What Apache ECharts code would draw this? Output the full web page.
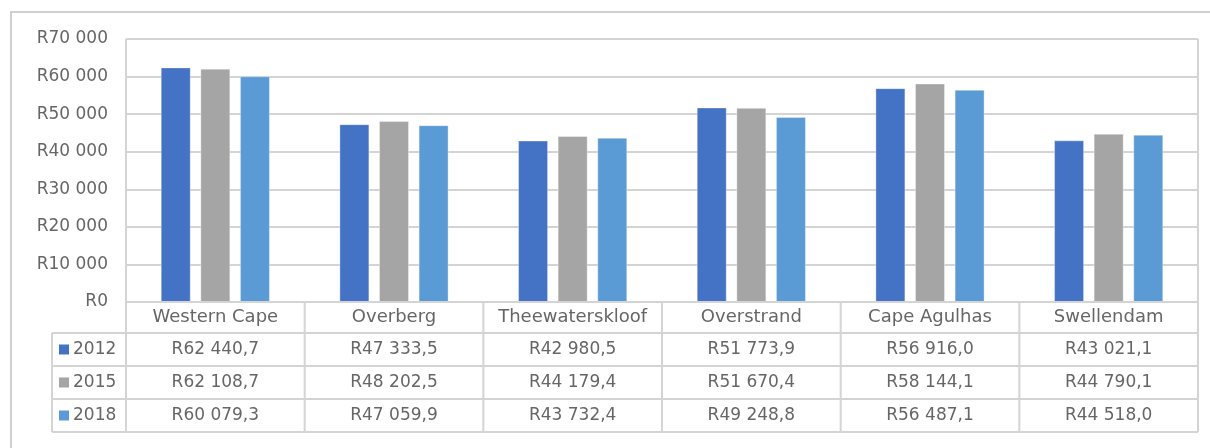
<!DOCTYPE html>
<html>
<head>
<meta charset="utf-8">
<script src="https://cdn.jsdelivr.net/npm/echarts@6/dist/echarts.min.js"></script>
<style>
html,body{margin:0;padding:0;background:#fff;}
#chart{width:1210px;height:448px;}
</style>
</head>
<body>
<div id="chart"></div>
<script>
const categories = ['Western Cape', 'Overberg', 'Theewaterskloof', 'Overstrand', 'Cape Agulhas', 'Swellendam'];
const seriesNames = ['2012', '2015', '2018'];
const values2012 = [62440.7, 47333.5, 42980.5, 51773.9, 56916.0, 43021.1];
const values2015 = [62108.7, 48202.5, 44179.4, 51670.4, 58144.1, 44790.1];
const values2018 = [60079.3, 47059.9, 43732.4, 49248.8, 56487.1, 44518.0];
const colors = ['#4472C4', '#A5A5A5', '#5B9BD5'];
const yTicks = [0, 10000, 20000, 30000, 40000, 50000, 60000, 70000];

const allValues = [values2012, values2015, values2018];

function thousands(n) {
  return String(n).replace(/\B(?=(\d{3})+(?!\d))/g, ' ');
}
function fmtAxis(v) { return 'R' + thousands(Math.round(v)); }
function fmtCell(v) {
  const parts = v.toFixed(1).split('.');
  return 'R' + thousands(parts[0]) + ',' + parts[1];
}

const W = 1210, H = 448;
const plotL = 126, plotR = 1198, plotT = 39, plotB = 302;
const rowH = [31, 33, 33, 33];
const rowY = [plotB];
rowH.forEach((h, i) => rowY.push(rowY[i] + h));
const tableL = 52;
const lineColor = '#d4d4d4';
const textColor = '#666666';
const fontFamily = 'DejaVu Sans';

const chart = echarts.init(document.getElementById('chart'), null, {renderer: 'canvas'});

const xAxes = [];
xAxes.push({
  type: 'category', data: categories, position: 'bottom', offset: 0,
  axisLine: {show: false}, axisTick: {show: false},
  axisLabel: {show: true, margin: (rowY[1] - rowY[0]) / 2, verticalAlign: 'middle',
    color: textColor, fontSize: 18, fontFamily: fontFamily, interval: 0}
});
allValues.forEach((vals, i) => {
  xAxes.push({
    type: 'category', data: vals.map(fmtCell), position: 'bottom',
    offset: rowY[i + 1] - plotB,
    axisLine: {show: false}, axisTick: {show: false},
    axisLabel: {show: true, margin: (rowY[i + 2] - rowY[i + 1]) / 2, verticalAlign: 'middle',
      color: textColor, fontSize: 17, fontFamily: fontFamily, interval: 0}
  });
});

const graphics = [];
graphics.push({type: 'rect', shape: {x: 11, y: 12, width: W + 10, height: H + 10},
  style: {fill: null, stroke: '#d0d0d0', lineWidth: 2}, silent: true});
function hline(x1, x2, y) {
  graphics.push({type: 'line', shape: {x1: x1, y1: y, x2: x2, y2: y},
    style: {stroke: lineColor, lineWidth: 2}, silent: true, z: 10});
}
function vline(x, y1, y2) {
  graphics.push({type: 'line', shape: {x1: x, y1: y1, x2: x, y2: y2},
    style: {stroke: lineColor, lineWidth: 2}, silent: true, z: 10});
}
hline(plotL, plotR, rowY[0]);
for (let i = 1; i < rowY.length; i++) hline(tableL, plotR, rowY[i]);
const colW = (plotR - plotL) / categories.length;
for (let i = 0; i <= categories.length; i++) vline(plotL + i * colW, i === 0 || i === categories.length ? plotT : plotB, rowY[rowY.length - 1]);
vline(tableL, rowY[1], rowY[rowY.length - 1]);
seriesNames.forEach((name, i) => {
  const cy = (rowY[i + 1] + rowY[i + 2]) / 2;
  graphics.push({type: 'rect', shape: {x: 59, y: cy - 5, width: 10, height: 10},
    style: {fill: colors[i]}, silent: true});
  graphics.push({type: 'text', x: 73, y: cy,
    style: {text: name, fill: textColor, font: '17px "' + fontFamily + '"',
      textAlign: 'left', textVerticalAlign: 'middle'}, silent: true});
});

const option = {
  animation: false,
  backgroundColor: '#fff',
  grid: {left: plotL, right: W - plotR, top: plotT, bottom: H - plotB, containLabel: false},
  xAxis: xAxes,
  yAxis: {
    type: 'value', min: yTicks[0], max: yTicks[yTicks.length - 1], interval: yTicks[1] - yTicks[0],
    axisLine: {show: false}, axisTick: {show: false},
    splitLine: {show: true, lineStyle: {color: lineColor, width: 2}},
    axisLabel: {formatter: fmtAxis, color: textColor, fontSize: 17, fontFamily: fontFamily, margin: 18}
  },
  series: allValues.map((vals, i) => ({
    name: seriesNames[i], type: 'bar', xAxisIndex: 0, data: vals,
    barWidth: 30, barGap: '32%',
    itemStyle: {color: colors[i], borderColor: 'rgba(255,255,255,0.35)', borderWidth: 1}
  })),
  graphic: graphics
};
chart.setOption(option);
</script>
</body>
</html>
